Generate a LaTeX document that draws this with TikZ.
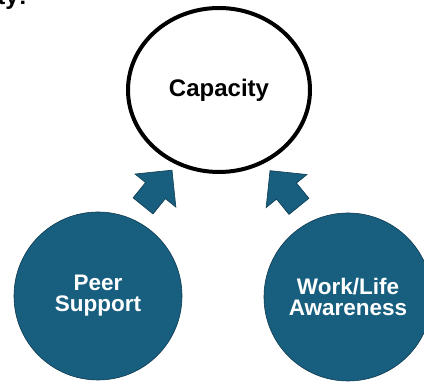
\documentclass[tikz,border=0pt]{standalone}
\usepackage{fontspec}
\setmainfont{Liberation Sans}
\usepackage{xcolor}
\usepackage{tikz}
\usetikzlibrary{
  arrows.meta,
  positioning,
  shapes.geometric,
  shapes.arrows,
  calc
}
\definecolor{pillarblue}{RGB}{23, 94, 127}
\definecolor{pillaredge}{RGB}{14, 58, 80}

\begin{document}
\begin{tikzpicture}[x=1pt, y=1pt,
  pillar/.style={circle, draw=pillaredge, fill=pillarblue, line width=0.6pt,
      minimum size=168pt, inner sep=0pt, text=white, align=center,
      font=\fontsize{22.5}{21}\selectfont\bfseries},
  feed/.style={single arrow, draw=pillaredge, fill=pillarblue, line width=0.6pt,
      minimum height=46pt, inner xsep=0pt, inner ysep=12.5pt,
      single arrow head extend=13.5pt}]
\useasboundingbox (0,0) rectangle (424,382);

% heading cut off at the top edge
\node[anchor=base east, font=\fontsize{24}{28}\selectfont\bfseries, inner sep=0pt]
  (head) at (27,377) {ty:};

% the goal
\node[ellipse, draw=black, line width=4pt, minimum width=182pt, minimum height=164pt,
      font=\fontsize{24}{28}\selectfont\bfseries, inner sep=0pt]
  (cap) at (219,292) {Capacity};

% the two pillars feeding it
\node[pillar] (peer) at (98,86) {Peer\\Support};
\node[pillar] (life) at (348,85) {Work/Life\\Awareness};

\node[feed, xshift=-5pt, rotate=51] (peerfeed) at ($(peer)!0.5!(cap)$) {};
\node[feed, xshift=5pt, rotate=129] (lifefeed) at ($(life)!0.5!(cap)$) {};
\end{tikzpicture}
\end{document}
